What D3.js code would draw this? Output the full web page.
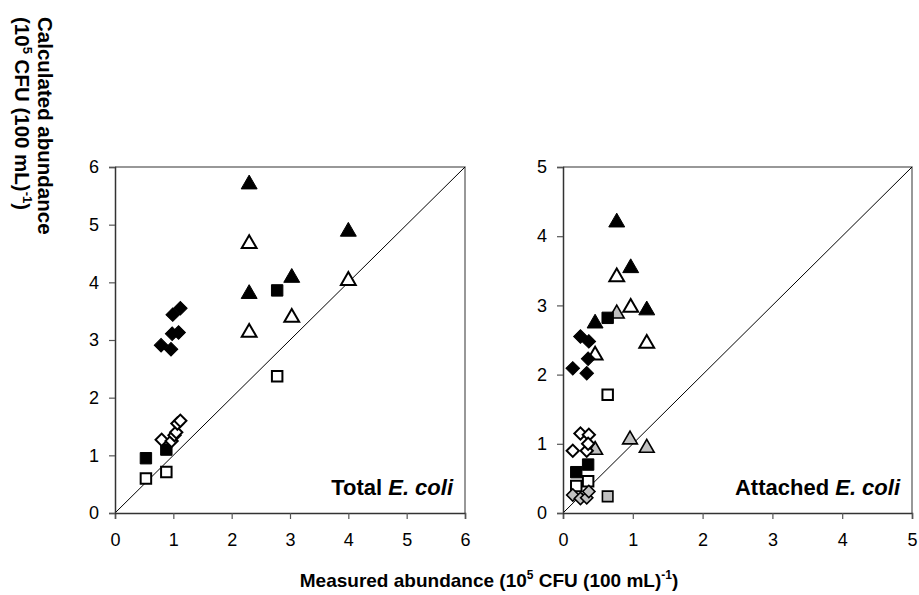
<!DOCTYPE html>
<html>
<head>
<meta charset="utf-8">
<script src="https://cdn.jsdelivr.net/npm/d3@7"></script>
<style>
  body { margin: 0; background: #fff; }
  svg { font-family: "Liberation Sans", Arial, sans-serif; }
</style>
</head>
<body>
<div id="chart"></div>
<script>
// ---- data ----
const totalFilledTriangle = [[2.3, 5.7], [2.3, 3.8], [3.03, 4.08], [4.0, 4.88]];
const totalOpenTriangle = [[2.3, 4.67], [2.3, 3.13], [3.03, 3.39], [4.0, 4.03]];
const totalFilledSquare = [[2.78, 3.86], [0.53, 0.95], [0.88, 1.1]];
const totalOpenSquare = [[2.78, 2.37], [0.53, 0.6], [0.88, 0.71]];
const totalFilledDiamond = [[0.99, 3.44], [1.12, 3.55], [0.98, 3.11], [1.09, 3.13], [0.79, 2.91], [0.96, 2.84]];
const totalOpenDiamond = [[0.8, 1.27], [0.97, 1.25], [1.02, 1.35], [1.05, 1.4], [1.07, 1.55], [1.12, 1.6]];

const attFilledTriangle = [[0.77, 4.2], [0.97, 3.54], [1.2, 2.93], [0.46, 2.74]];
const attOpenTriangle = [[0.77, 3.41], [0.97, 2.97], [1.2, 2.45], [0.46, 2.28]];
const attGrayTriangle = [[0.77, 2.88], [0.96, 1.06], [1.2, 0.94], [0.46, 0.91]];
const attFilledSquare = [[0.64, 2.82], [0.19, 0.59], [0.36, 0.7]];
const attOpenSquare = [[0.64, 1.71], [0.19, 0.39], [0.36, 0.46]];
const attGraySquare = [[0.64, 0.24]];
const attFilledDiamond = [[0.25, 2.55], [0.37, 2.48], [0.36, 2.23], [0.14, 2.09], [0.34, 2.02]];
const attOpenDiamond = [[0.25, 1.15], [0.37, 1.13], [0.14, 0.9], [0.34, 0.9], [0.36, 1.0]];
const attGrayDiamond = [[0.14, 0.26], [0.25, 0.21], [0.34, 0.22], [0.37, 0.31]];

const totalTicks = [0, 1, 2, 3, 4, 5, 6];
const attTicks = [0, 1, 2, 3, 4, 5];

const width = 919, height = 595;
const svg = d3.select("#chart").append("svg")
  .attr("width", width)
  .attr("height", height);

const styles = {
  filled: { fill: "#000", stroke: "#000", sw: 1 },
  open: { fill: "#fff", stroke: "#000", sw: 2 },
  gray: { fill: "#c0c0c0", stroke: "#000", sw: 1.6 },
};

function draw_panel(p) {
  const x = d3.scaleLinear().domain([0, p.max]).range([p.left, p.right]);
  const y = d3.scaleLinear().domain([0, p.max]).range([513, 167]);
  const g = svg.append("g");

  // plot frame (top / right)
  g.append("path")
    .attr("d", `M${x(0)},${y(p.max)}H${x(p.max)}V${y(0)}`)
    .attr("fill", "none")
    .attr("stroke", "#777")
    .attr("stroke-width", 1.5);

  // 1:1 line
  g.append("line")
    .attr("x1", x(0)).attr("y1", y(0))
    .attr("x2", x(p.max)).attr("y2", y(p.max))
    .attr("stroke", "#000")
    .attr("stroke-width", 1);

  const xa = g.append("g")
    .attr("transform", `translate(0,${y(0)})`)
    .call(d3.axisBottom(x).tickValues(p.ticks).tickFormat(d3.format("d")).tickSizeOuter(0).tickSize(6).tickPadding(14));
  const ya = g.append("g")
    .attr("transform", `translate(${x(0)},0)`)
    .call(d3.axisLeft(y).tickValues(p.ticks).tickFormat(d3.format("d")).tickSizeOuter(0).tickSize(6).tickPadding(10));
  [xa, ya].forEach(a => {
    a.select(".domain").attr("stroke", "#333").attr("stroke-width", 1.5);
    a.selectAll(".tick line").attr("stroke", "#555").attr("stroke-width", 1.2);
    a.selectAll(".tick text").attr("font-size", 18).attr("fill", "#000")
      .attr("font-family", "'Liberation Sans', Arial, sans-serif");
  });

  // markers
  p.series.forEach(s => {
    const st = styles[s.style];
    let gen, rot = 0;
    if (s.shape === "triangle") gen = d3.symbol().type(d3.symbolTriangle).size(s.style === "filled" ? 110 : 95);
    else if (s.shape === "square") gen = d3.symbol().type(d3.symbolSquare).size(s.style === "filled" ? 130 : 110);
    else { gen = d3.symbol().type(d3.symbolSquare).size(s.style === "filled" ? 92 : 75); rot = 45; }
    g.append("g").selectAll("path")
      .data(s.data)
      .join("path")
      .attr("d", gen)
      .attr("transform", d => `translate(${x(d[0])},${y(d[1])}) rotate(${rot})`)
      .attr("fill", st.fill)
      .attr("stroke", st.stroke)
      .attr("stroke-width", st.sw)
      .attr("stroke-linejoin", "miter");
  });

  // panel label
  const t = g.append("text")
    .attr("x", p.right - 12)
    .attr("y", 495)
    .attr("text-anchor", "end")
    .attr("font-size", 22)
    .attr("font-weight", "bold");
  t.append("tspan").text(p.label + " ");
  t.append("tspan").attr("font-style", "italic").text("E. coli");
}

draw_panel({
  left: 115, right: 465, max: 6, ticks: totalTicks, label: "Total",
  series: [
    { shape: "triangle", style: "filled", data: totalFilledTriangle },
    { shape: "triangle", style: "open", data: totalOpenTriangle },
    { shape: "square", style: "filled", data: totalFilledSquare },
    { shape: "square", style: "open", data: totalOpenSquare },
    { shape: "diamond", style: "filled", data: totalFilledDiamond },
    { shape: "diamond", style: "open", data: totalOpenDiamond },
  ],
});

draw_panel({
  left: 563, right: 912, max: 5, ticks: attTicks, label: "Attached",
  series: [
    { shape: "triangle", style: "filled", data: attFilledTriangle },
    { shape: "triangle", style: "open", data: attOpenTriangle },
    { shape: "triangle", style: "gray", data: attGrayTriangle },
    { shape: "square", style: "filled", data: attFilledSquare },
    { shape: "square", style: "open", data: attOpenSquare },
    { shape: "square", style: "gray", data: attGraySquare },
    { shape: "diamond", style: "filled", data: attFilledDiamond },
    { shape: "diamond", style: "open", data: attOpenDiamond },
    { shape: "diamond", style: "gray", data: attGrayDiamond },
  ],
});

// x axis title
const xt = svg.append("text")
  .attr("x", 489)
  .attr("y", 587)
  .attr("text-anchor", "middle")
  .attr("font-size", 19)
  .attr("font-weight", "bold");
xt.append("tspan").text("Measured abundance (10");
xt.append("tspan").attr("font-size", 12).attr("dy", -8).text("5");
xt.append("tspan").attr("dy", 8).text(" CFU (100 mL)");
xt.append("tspan").attr("font-size", 12).attr("dy", -8).text("-1");
xt.append("tspan").attr("dy", 8).text(")");

// y axis title, rotated clockwise
const yt = svg.append("text")
  .attr("transform", "translate(38,17) rotate(90)")
  .attr("font-size", 20.5)
  .attr("font-weight", "bold");
yt.append("tspan").text("Calculated abundance");
const yt2 = svg.append("text")
  .attr("transform", "translate(15,17) rotate(90)")
  .attr("font-size", 20.5)
  .attr("font-weight", "bold");
yt2.append("tspan").text("(10");
yt2.append("tspan").attr("font-size", 13).attr("dy", -8).text("5");
yt2.append("tspan").attr("dy", 8).text(" CFU (100 mL)");
yt2.append("tspan").attr("font-size", 13).attr("dy", -8).text("-1");
yt2.append("tspan").attr("dy", 8).text(")");
</script>
</body>
</html>
